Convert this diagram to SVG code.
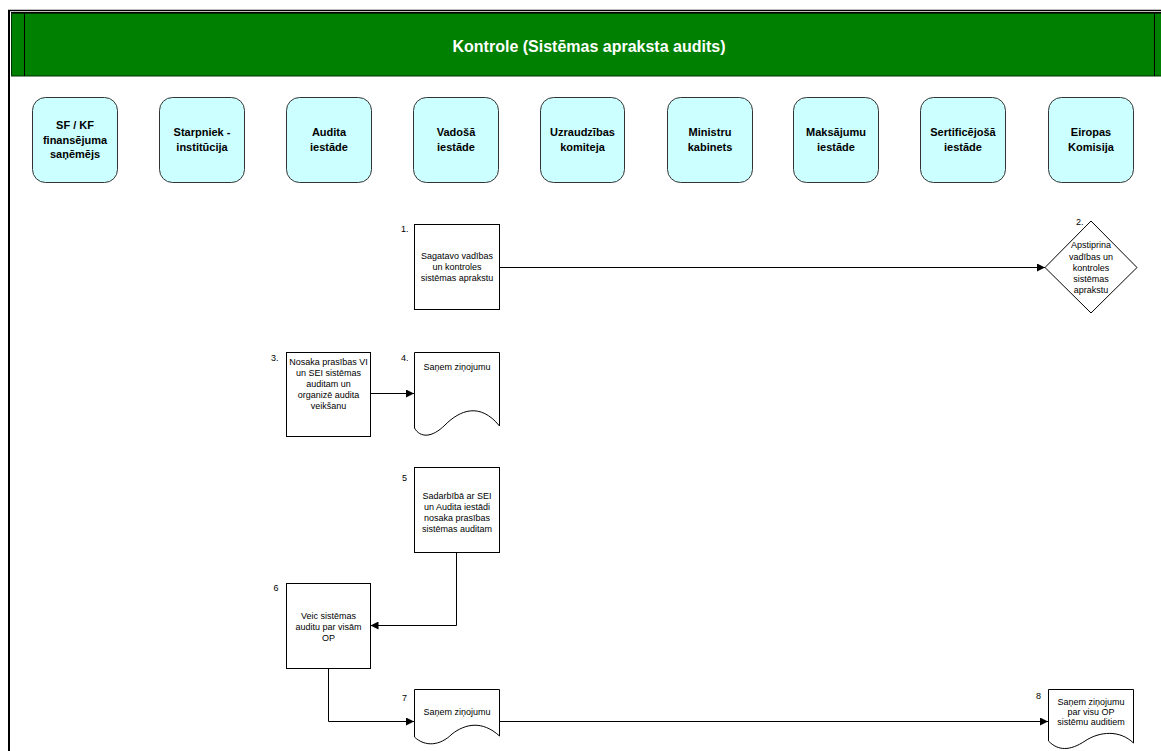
<svg xmlns="http://www.w3.org/2000/svg" width="1161" height="751" viewBox="0 0 1161 751">
<defs>
<style>
.lane rect{fill:#ccffff;stroke:#333;stroke-width:1}
.lane text{font-family:"Liberation Sans",Arial,sans-serif;font-size:11px;font-weight:bold;fill:#000;text-anchor:middle}
.step .shape{fill:#fff;stroke:#000;stroke-width:1}
.step text{font-family:"Liberation Sans",Arial,sans-serif;font-size:9px;fill:#000;text-anchor:middle}
.step text.num{font-size:9px;text-anchor:start}
.conn{fill:none;stroke:#000;stroke-width:1}
</style>
<marker id="arr" viewBox="0 0 10 10" refX="10" refY="5" markerWidth="9" markerHeight="8" markerUnits="userSpaceOnUse" orient="auto">
<path d="M0,0 L10,5 L0,10 Z" fill="#000"/>
</marker>
</defs>
<rect width="1161" height="751" fill="#fff"/>
<g id="frame">
<line x1="9" y1="10" x2="9" y2="751" stroke="#000" stroke-width="2"/>
<line x1="8" y1="10.5" x2="1161" y2="10.5" stroke="#000" stroke-width="1.5"/>
<line x1="11" y1="12.5" x2="1161" y2="12.5" stroke="#000" stroke-width="1"/>
<rect x="11.5" y="13.5" width="1160" height="62.5" fill="#008000" stroke="#003300" stroke-width="1"/>
<line x1="24.5" y1="13.5" x2="24.5" y2="76" stroke="#000" stroke-width="1"/>
<line x1="1154.5" y1="13.5" x2="1154.5" y2="76" stroke="#000" stroke-width="1"/>
<text x="589" y="52" font-family="'Liberation Sans',Arial,sans-serif" font-size="16" font-weight="bold" fill="#fff" text-anchor="middle">Kontrole (Sistēmas apraksta audits)</text>
</g>
<g id="lanes">
<g id="lane1" class="lane"><rect x="32.5" y="97.5" width="85" height="85" rx="13"/><text x="75" y="129">SF / KF</text><text x="75" y="143.5">finansējuma</text><text x="75" y="158">saņēmējs</text></g>
<g id="lane2" class="lane"><rect x="159.5" y="97.5" width="85" height="85" rx="13"/><text x="202" y="136">Starpniek -</text><text x="202" y="150.5">institūcija</text></g>
<g id="lane3" class="lane"><rect x="286.5" y="97.5" width="85" height="85" rx="13"/><text x="329" y="136">Audita</text><text x="329" y="150.5">iestāde</text></g>
<g id="lane4" class="lane"><rect x="413.5" y="97.5" width="85" height="85" rx="13"/><text x="456" y="136">Vadošā</text><text x="456" y="150.5">iestāde</text></g>
<g id="lane5" class="lane"><rect x="540.5" y="97.5" width="84" height="85" rx="13"/><text x="582.5" y="136">Uzraudzības</text><text x="582.5" y="150.5">komiteja</text></g>
<g id="lane6" class="lane"><rect x="667.5" y="97.5" width="85" height="85" rx="13"/><text x="710" y="136">Ministru</text><text x="710" y="150.5">kabinets</text></g>
<g id="lane7" class="lane"><rect x="793.5" y="97.5" width="85" height="85" rx="13"/><text x="836" y="136">Maksājumu</text><text x="836" y="150.5">iestāde</text></g>
<g id="lane8" class="lane"><rect x="920.5" y="97.5" width="85" height="85" rx="13"/><text x="963" y="136">Sertificējošā</text><text x="963" y="150.5">iestāde</text></g>
<g id="lane9" class="lane"><rect x="1048.5" y="97.5" width="85" height="85" rx="13"/><text x="1091" y="136">Eiropas</text><text x="1091" y="150.5">Komisija</text></g>
</g>
<g id="connectors">
<path class="conn" d="M499,267.5 H1045" marker-end="url(#arr)"/>
<path class="conn" d="M370,393.5 H414" marker-end="url(#arr)"/>
<path class="conn" d="M456.5,553 V625.5 H370.5" marker-end="url(#arr)"/>
<path class="conn" d="M328.5,668 V721.5 H414" marker-end="url(#arr)"/>
<path class="conn" d="M499,721.5 H1048" marker-end="url(#arr)"/>
</g>
<g id="step1" class="step">
<rect class="shape" x="414.5" y="224.5" width="85" height="85"/>
<text class="num" x="401" y="232">1.</text>
<text x="457" y="259">Sagatavo vadības</text><text x="457" y="270">un kontroles</text><text x="457" y="281">sistēmas aprakstu</text>
</g>
<g id="step2" class="step">
<path class="shape" d="M1091,221 L1137,267.5 L1091,313 L1045,267.5 Z"/>
<text class="num" x="1076" y="224.5">2.</text>
<text x="1091" y="248">Apstiprina</text><text x="1091" y="259.5">vadības un</text><text x="1091" y="270.5">kontroles</text><text x="1091" y="281.5">sistēmas</text><text x="1091" y="292.5">aprakstu</text>
</g>
<g id="step3" class="step">
<rect class="shape" x="286.5" y="352.5" width="84" height="84"/>
<text class="num" x="271" y="360.5">3.</text>
<text x="328.5" y="365">Nosaka prasības VI</text><text x="328.5" y="376">un SEI sistēmas</text><text x="328.5" y="387">auditam un</text><text x="328.5" y="398">organizē audita</text><text x="328.5" y="409">veikšanu</text>
</g>
<g id="step4" class="step">
<path class="shape" d="M414.5,352.5 H499.5 V426 C480,402 460,410 445,425 C432,438 420,438 414.5,428 Z"/>
<text class="num" x="401" y="360.5">4.</text>
<text x="457" y="370">Saņem ziņojumu</text>
</g>
<g id="step5" class="step">
<rect class="shape" x="414.5" y="467.5" width="85" height="85"/>
<text class="num" x="402" y="481">5</text>
<text x="457" y="498.5">Sadarbībā ar SEI</text><text x="457" y="510">un Audita iestādi</text><text x="457" y="521">nosaka prasības</text><text x="457" y="532">sistēmas auditam</text>
</g>
<g id="step6" class="step">
<rect class="shape" x="286.5" y="583.5" width="84" height="85"/>
<text class="num" x="273.5" y="591">6</text>
<text x="328.5" y="618.5">Veic sistēmas</text><text x="328.5" y="629.5">auditu par visām</text><text x="328.5" y="640.5">OP</text>
</g>
<g id="step7" class="step">
<path class="shape" d="M414.5,689.5 H499.5 V736 C482,720 465,724 452,734 C440,746 425,747 414.5,737 Z"/>
<text class="num" x="402" y="701">7</text>
<text x="457" y="715">Saņem ziņojumu</text>
</g>
<g id="step8" class="step">
<path class="shape" d="M1048.5,689.5 H1133.5 V743 C1120,730 1100,731 1085,741 C1070,751 1058,751 1048.5,741 Z"/>
<text class="num" x="1036" y="698.5">8</text>
<text x="1091" y="705">Saņem ziņojumu</text><text x="1091" y="715">par visu OP</text><text x="1091" y="725">sistēmu auditiem</text>
</g>
</svg>
